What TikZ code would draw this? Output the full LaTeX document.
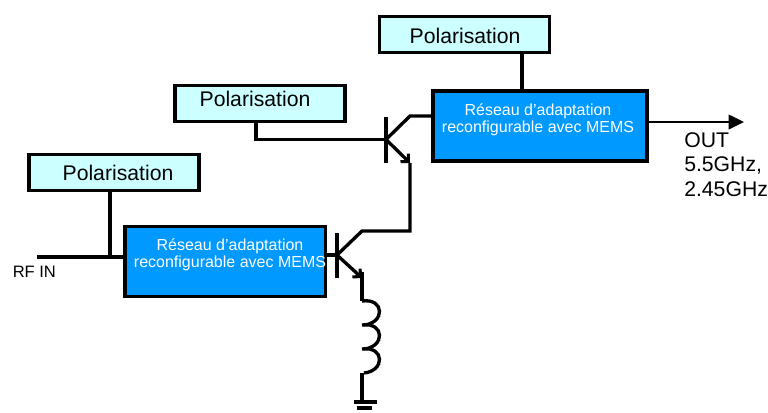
\documentclass[tikz,border=0pt]{standalone}
\usepackage{fontspec}
\setmainfont{Liberation Sans}
\usetikzlibrary{arrows.meta}
\definecolor{polarcolor}{HTML}{CCFFFF}
\definecolor{adaptcolor}{HTML}{0099FF}
\tikzset{
    wire/.style={line width=2.5pt, line join=miter},
    barbwire/.style={wire, -{Straight Barb[length=4.2pt, width=8.5pt, line width=2.3pt]}},
    polarbox/.style={draw, line width=2.6pt, fill=polarcolor, minimum width=127.5pt, minimum height=27pt, inner sep=0pt},
    adaptbox/.style={draw, line width=2.6pt, fill=adaptcolor, inner sep=0pt},
    polartext/.style={font=\fontsize{15.9}{18}\selectfont, inner sep=0pt},
    adapttext/.style={font=\fontsize{12}{12.8}\selectfont, text=white, align=center, inner sep=0pt},
    outtext/.style={font=\fontsize{15.9}{18.4}\selectfont, align=left, inner sep=0pt}
}
\begin{document}
\begin{tikzpicture}[x=0.75pt, y=-0.75pt]
    \useasboundingbox (0, 0) rectangle (768, 412);

    % Polarisation boxes
    \node[polarbox] (polarA) at (114, 172.5) {};
    \node[polarbox] (polarB) at (260, 103.5) {};
    \node[polarbox] (polarC) at (464.5, 34.5) {};
    \node[polartext] (polarAtext) at (118, 173) {Polarisation};
    \node[polartext] (polarBtext) at (255, 99) {Polarisation};
    \node[polartext] (polarCtext) at (465, 36) {Polarisation};

    % Matching networks
    \node[adaptbox, minimum width=150.4pt, minimum height=52.5pt] (adaptA) at (225.2, 261.5) {};
    \node[adaptbox, minimum width=160.5pt, minimum height=52.5pt] (adaptB) at (540, 126) {};
    \node[adapttext] (adaptAtext) at (230, 255) {Réseau d’adaptation\\reconfigurable avec MEMS};
    \node[adapttext] (adaptBtext) at (538, 120) {Réseau d’adaptation\\reconfigurable avec MEMS};

    % Junction points
    \coordinate (rfin) at (37, 257);
    \coordinate (rfjoin) at (110, 257);
    \coordinate (baseA) at (337, 255);
    \coordinate (kneeA) at (362, 231);
    \coordinate (riseA) at (410, 231);
    \coordinate (emitA) at (362, 278);
    \coordinate (coilTop) at (362, 301);
    \coordinate (coilEnd) at (362, 373);
    \coordinate (gnd) at (362, 402);
    \coordinate (baseB) at (386, 139.5);
    \coordinate (cornerB) at (256, 139.5);
    \coordinate (kneeB) at (410, 116);
    \coordinate (emitB) at (410, 163);
    \coordinate (out) at (744, 122);

    % Input and bias wires
    \draw[wire] (rfin) -- (rfjoin) -- (adaptA.west |- rfjoin);
    \draw[wire] (polarA.south -| rfjoin) -- (rfjoin);
    \draw[wire] (polarB.south -| cornerB) -- (cornerB) -- (baseB);
    \draw[wire] (polarC.south -| 522, 0) -- (adaptB.north -| 522, 0);

    % Lower transistor
    \draw[wire] (adaptA.east |- baseA) -- (baseA);
    \draw[wire] (337, 233) -- (337, 278);
    \draw[wire] (baseA) -- (kneeA) -- (riseA) -- (emitB);
    \draw[barbwire] (baseA) -- (emitA);
    \draw[wire] (362, 272) -- (coilTop);

    % Upper transistor
    \draw[wire] (386, 117) -- (386, 163);
    \draw[wire] (baseB) -- (kneeB) -- (adaptB.west |- kneeB);
    \draw[barbwire] (baseB) -- (emitB);

    % Inductor
    \foreach \y in {301, 325, 349} {
        \draw[wire] (362, \y) .. controls (385, \y-3) and (385, \y+22) .. (364, \y+24);
    }

    % Ground
    \draw[wire] (coilEnd) -- (gnd);
    \draw[wire] (354, 402) -- (377, 402);
    \draw[wire] (357, 408) -- (372, 408);

    % Output
    \draw[line width=1.1pt, -{Triangle[length=11.5pt, width=11pt]}] (adaptB.east |- out) -- (out);

    % Labels
    \node[font=\fontsize{12.4}{14}\selectfont, anchor=base west, inner sep=0pt] (rfinlabel) at (12.5, 277) {RF IN};
    \node[outtext, anchor=north west] (outlabel) at (684, 132) {OUT\\5.5GHz,\\2.45GHz};
\end{tikzpicture}
\end{document}
